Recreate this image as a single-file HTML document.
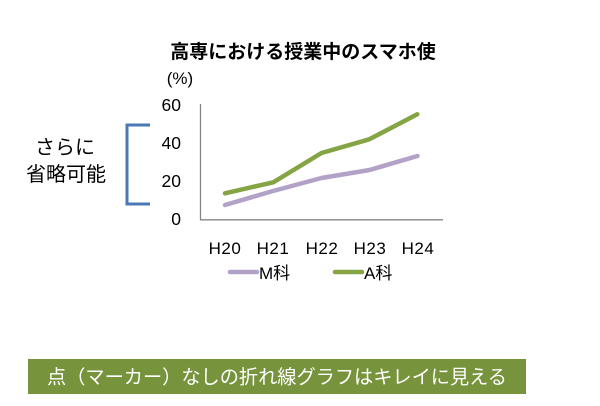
<!DOCTYPE html>
<html><head><meta charset="utf-8">
<style>
html,body{margin:0;padding:0;background:#fff;}
body{width:600px;height:406px;overflow:hidden;}
svg{display:block;}
text{font-family:"Liberation Sans","Noto Sans CJK JP",sans-serif;}
</style></head>
<body>
<svg width="600" height="406" viewBox="0 0 600 406" xmlns="http://www.w3.org/2000/svg">
  <rect width="600" height="406" fill="#fff"/>
  <!-- title -->
  <text x="303" y="58" font-size="19" font-weight="bold" text-anchor="middle" fill="#000" font-family="Liberation Sans, Noto Sans CJK JP, sans-serif">高専における授業中のスマホ使</text>
  <text x="180" y="84" font-size="17" text-anchor="middle" fill="#000">(%)</text>
  <!-- y labels -->
  <g font-size="17.5" fill="#000" text-anchor="end">
    <text x="181" y="111">60</text>
    <text x="181" y="149">40</text>
    <text x="181" y="187">20</text>
    <text x="181" y="225">0</text>
  </g>
  <!-- axes -->
  <line x1="200.5" y1="104" x2="200.5" y2="220" stroke="#868686" stroke-width="1.3"/>
  <line x1="200" y1="219.8" x2="443" y2="219.8" stroke="#868686" stroke-width="1.3"/>
  <!-- series -->
  <polyline points="225,205 273,191 321.5,178 369.5,170 417.5,156" fill="none" stroke="#b3a2c7" stroke-width="4.5" stroke-linecap="round" stroke-linejoin="round"/>
  <polyline points="225,193.3 273.3,182.3 321.5,153 369.3,139.3 417.3,114.3" fill="none" stroke="#85a545" stroke-width="4.5" stroke-linecap="round" stroke-linejoin="round"/>
  <!-- x labels -->
  <g font-size="17" fill="#000" text-anchor="middle" letter-spacing="0.5">
    <text x="225" y="254">H20</text>
    <text x="273" y="254">H21</text>
    <text x="322" y="254">H22</text>
    <text x="370" y="254">H23</text>
    <text x="418" y="254">H24</text>
  </g>
  <!-- legend -->
  <line x1="230" y1="272" x2="257" y2="272" stroke="#b3a2c7" stroke-width="4.5" stroke-linecap="round"/>
  <text x="259" y="279" font-size="17" fill="#000">M科</text>
  <line x1="335" y1="272" x2="362" y2="272" stroke="#85a545" stroke-width="4.5" stroke-linecap="round"/>
  <text x="364" y="279" font-size="17" fill="#000">A科</text>
  <!-- left note -->
  <text x="65" y="154" font-size="20" text-anchor="middle" fill="#000">さらに</text>
  <text x="66" y="181" font-size="20" text-anchor="middle" fill="#000">省略可能</text>
  <polyline points="150,125 127,125 127,204 150,204" fill="none" stroke="#4a7ab5" stroke-width="3"/>
  <!-- banner -->
  <rect x="28" y="359" width="498" height="35" fill="#77933c"/>
  <text x="277" y="383.5" font-size="19.2" fill="#fff" text-anchor="middle">点（マーカー）なしの折れ線グラフはキレイに見える</text>
</svg>
</body></html>
